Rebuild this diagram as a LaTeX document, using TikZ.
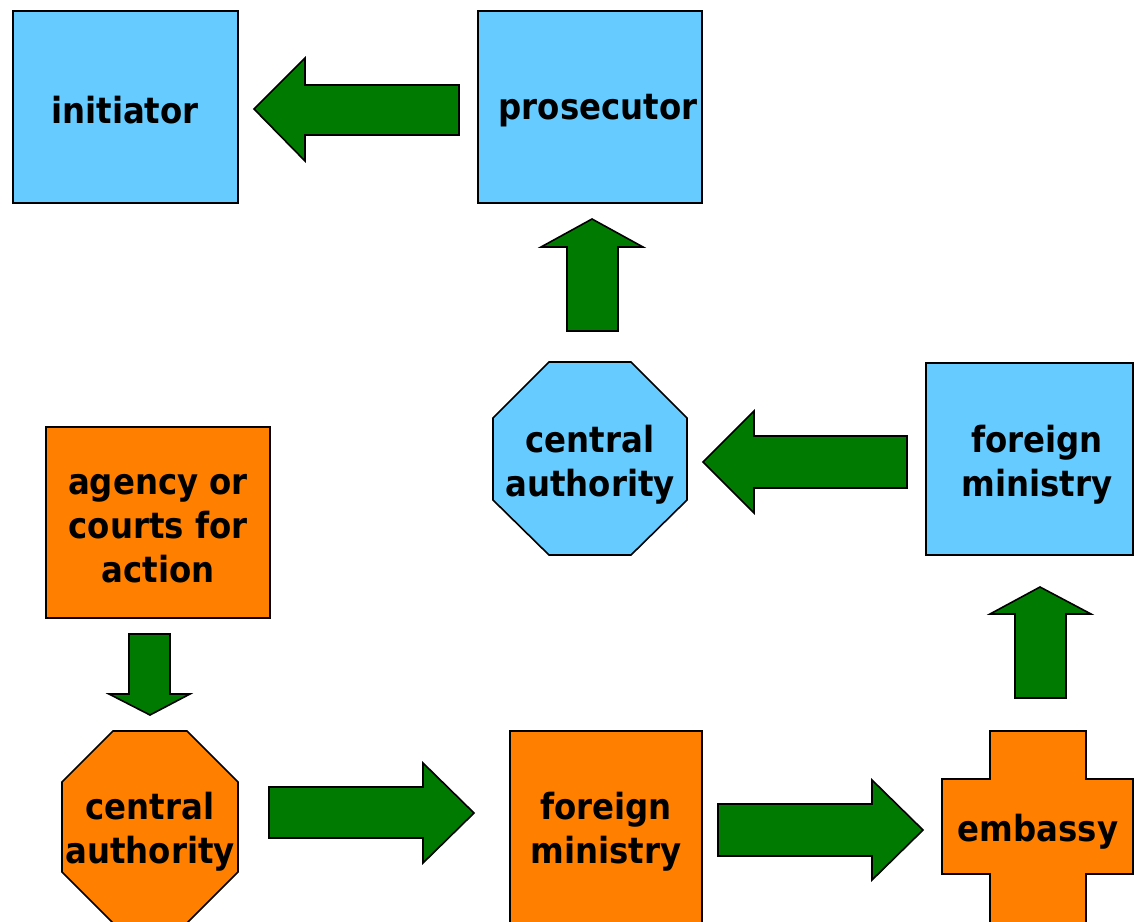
\documentclass[tikz,border=0pt]{standalone}
\usepackage{fontspec}
\setmainfont{DejaVu Sans Condensed}
\definecolor{sky}{HTML}{66CCFF}
\definecolor{amber}{HTML}{FF8000}
\definecolor{leaf}{HTML}{007A00}
\tikzset{
  lab/.style={font=\fontsize{36}{44}\selectfont\bfseries, align=center, text=black, inner sep=0pt},
  blueBox/.style={fill=sky, draw=black, line width=1.6pt, inner sep=0pt},
  orangeBox/.style={fill=amber, draw=black, line width=1.6pt, inner sep=0pt},
  blueShape/.style={fill=sky, draw=black, line width=1.6pt},
  orangeShape/.style={fill=amber, draw=black, line width=1.6pt},
  bigArrow/.style={fill=leaf, draw=black, line width=1.6pt, line join=miter}
}
\begin{document}
\begin{tikzpicture}[x=1pt,y=-1pt]
\useasboundingbox (0,0) rectangle (1134,921);
\clip (0,0) rectangle (1134,921);

% top row
\node[blueBox, minimum width=225pt, minimum height=192pt] (init) at (125.5,107) {};
\node[lab] (initText) at (125,110) {initiator};
\node[blueBox, minimum width=224pt, minimum height=192pt] (pros) at (590,107) {};
\node[lab] (prosText) at (598,111) {prosecutor};
\draw[bigArrow] (459,85) -- (305,85) -- (305,58) -- (254,109) -- (305,161) -- (305,135) -- (459,135) -- cycle;

% middle row
\draw[bigArrow] (567,331) -- (567,247) -- (541,247) -- (592,219) -- (643,247) -- (618,247) -- (618,331) -- cycle;
\draw[blueShape] (549,362) -- (631,362) -- (687,418) -- (687,500) -- (631,555) -- (549,555) -- (493,500) -- (493,418) -- cycle;
\node[lab] (ca1) at (590,465) {central\\authority};
\draw[bigArrow] (907,436) -- (754,436) -- (754,411) -- (703,462) -- (754,513) -- (754,488) -- (907,488) -- cycle;
\node[blueBox, minimum width=207pt, minimum height=192pt] (fm1) at (1029.5,459) {};
\node[lab] (fm1Text) at (1037,465) {foreign\\ministry};
\draw[bigArrow] (1015,698) -- (1015,614) -- (990,614) -- (1040,587) -- (1091,614) -- (1066,614) -- (1066,698) -- cycle;

% left column
\node[orangeBox, minimum width=224pt, minimum height=191pt] (agency) at (158,522.5) {};
\node[lab] (agencyText) at (158,529) {agency or\\courts for\\action};
\draw[bigArrow] (129,634) -- (170,634) -- (170,694) -- (190,694) -- (150,715) -- (109,694) -- (129,694) -- cycle;

% bottom row
\draw[orangeShape] (113,731) -- (187,731) -- (238,782) -- (238,872) -- (187,923) -- (113,923) -- (62,872) -- (62,782) -- cycle;
\node[lab] (ca2) at (150,832) {central\\authority};
\draw[bigArrow] (269,787) -- (423,787) -- (423,763) -- (474,813) -- (423,863) -- (423,838) -- (269,838) -- cycle;
\draw[orangeShape] (510,731) rectangle (702,940);
\node[lab] (fm2) at (606,832) {foreign\\ministry};
\draw[bigArrow] (718,804) -- (872,804) -- (872,780) -- (923,830) -- (872,880) -- (872,856) -- (718,856) -- cycle;
\draw[orangeShape] (990,731) -- (1086,731) -- (1086,779) -- (1133,779) -- (1133,874) -- (1086,874) -- (1086,940) -- (990,940) -- (990,874) -- (942,874) -- (942,779) -- (990,779) -- cycle;
\node[lab] (emb) at (1038,832) {embassy};
\end{tikzpicture}
\end{document}
